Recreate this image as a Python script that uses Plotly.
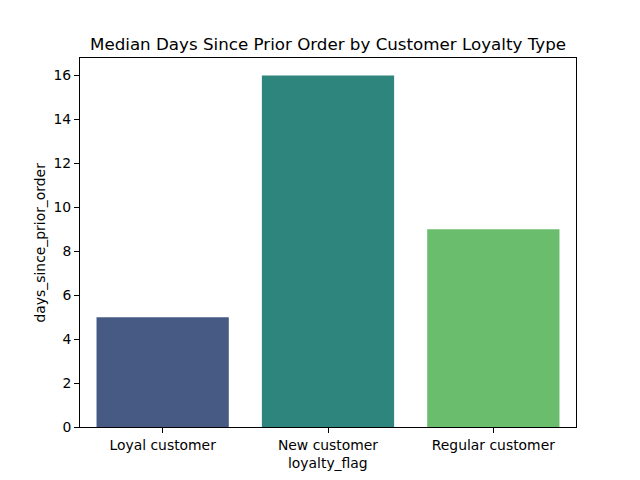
import plotly.graph_objects as go

categories = ["Loyal customer", "New customer", "Regular customer"]
values = [5, 16, 9]
colors = ["#475a83", "#2e857e", "#6bbd6e"]

fig = go.Figure()
fig.add_trace(go.Bar(
    x=categories, y=values, marker=dict(color=colors, line=dict(width=0)),
    width=0.8,
))

font = "DejaVu Sans"
# page body has an 8px default margin, so offset the plot area
fig.update_layout(
    width=640, height=480,
    margin=dict(l=72, r=72, t=50, b=61, pad=0, autoexpand=False),
    plot_bgcolor="white", paper_bgcolor="white",
    showlegend=False,
    font=dict(family=font, size=13.9, color="black"),
    annotations=[
        dict(text="Median Days Since Prior Order by Customer Loyalty Type",
             x=0.5, xref="paper", xanchor="center",
             y=1 + (58 - 44) / (427 - 58), yref="paper", yanchor="middle", showarrow=False,
             font=dict(family=font, size=16.7, color="black")),
        dict(text="loyalty_flag", x=0.5, xref="paper", xanchor="center",
             y=0, yref="paper", yanchor="top", yshift=-26, showarrow=False,
             font=dict(family=font, size=13.9, color="black")),
        dict(text="days_since_prior_order", x=0, xref="paper", xanchor="center",
             y=0.5, yref="paper", yanchor="middle", xshift=-41, textangle=-90,
             showarrow=False, font=dict(family=font, size=13.9, color="black")),
    ],
)
fig.update_xaxes(
    range=[-0.5, 2.5], showline=True, linecolor="black", linewidth=1, mirror=True,
    ticks="outside", ticklen=5, tickcolor="black", showgrid=False,
    tickfont=dict(size=13.9), automargin=False,
)
fig.update_yaxes(
    range=[0, 16.8], showline=True, linecolor="black", linewidth=1, mirror=True,
    ticks="outside", ticklen=5, tickcolor="black", showgrid=False,
    tickvals=[0, 2, 4, 6, 8, 10, 12, 14, 16], zeroline=False,
    tickfont=dict(size=13.9), automargin=False,
)
fig.write_html("out.html")
